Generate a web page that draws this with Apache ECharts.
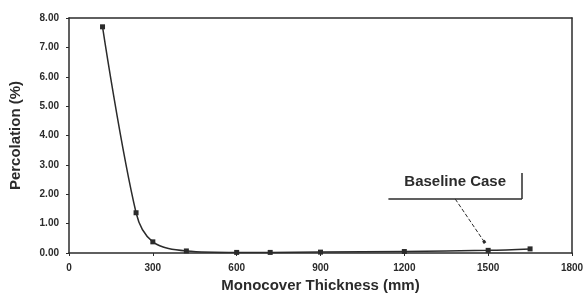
<!DOCTYPE html>
<html>
<head>
<meta charset="utf-8">
<script src="https://cdn.jsdelivr.net/npm/echarts@6/dist/echarts.min.js"></script>
<style>
  html, body { margin: 0; padding: 0; background: #fff; }
  #chart { width: 587px; height: 293px; }
</style>
</head>
<body>
<div id="chart"></div>
<script>
// 数据
var thickness = [120, 240, 300, 420, 600, 720, 900, 1200, 1500, 1650];
var percolation = [7.70, 1.37, 0.38, 0.07, 0.02, 0.02, 0.03, 0.05, 0.09, 0.14];
var xTicks = [0, 300, 600, 900, 1200, 1500, 1800];
var yTicks = [0, 1, 2, 3, 4, 5, 6, 7, 8];
var noteText = 'Baseline Case';

var font = '"Liberation Sans", Arial, sans-serif';
var ink = '#2b2b2b';

var myChart = echarts.init(document.getElementById('chart'));

var points = thickness.map(function (x, i) { return [x, percolation[i]]; });

var option = {
    backgroundColor: '#fff',
    animation: false,
    grid: { left: 69, right: 15, top: 18, bottom: 40, outerBoundsMode: 'none', containLabel: false },
    xAxis: [
        {
            type: 'value',
            min: xTicks[0],
            max: xTicks[xTicks.length - 1],
            interval: 300,
            name: 'Monocover Thickness (mm)',
            nameLocation: 'middle',
            nameGap: 24,
            nameTextStyle: { fontFamily: font, fontWeight: 'bold', fontSize: 15, color: ink },
            axisLine: { show: true, onZero: false, lineStyle: { color: ink, width: 1.5 } },
            axisTick: { show: true, length: 3, lineStyle: { color: ink } },
            axisLabel: {
                fontFamily: font, fontWeight: 'bold', fontSize: 10, color: ink, margin: 10,
                formatter: function (v) { return String(v); }
            },
            splitLine: { show: false }
        },
        {
            type: 'value',
            position: 'top',
            min: xTicks[0],
            max: xTicks[xTicks.length - 1],
            axisLine: { show: true, onZero: false, lineStyle: { color: ink, width: 1.5 } },
            axisTick: { show: false },
            axisLabel: { show: false },
            splitLine: { show: false }
        }
    ],
    yAxis: [
        {
            type: 'value',
            min: yTicks[0],
            max: yTicks[yTicks.length - 1],
            interval: 1,
            name: 'Percolation (%)',
            nameLocation: 'middle',
            nameGap: 46,
            nameTextStyle: { fontFamily: font, fontWeight: 'bold', fontSize: 15, color: ink },
            axisLine: { show: true, onZero: false, lineStyle: { color: ink, width: 1.5 } },
            axisTick: { show: true, length: 3, lineStyle: { color: ink } },
            axisLabel: {
                fontFamily: font, fontWeight: 'bold', fontSize: 10, color: ink, margin: 10,
                formatter: function (v) { return v.toFixed(2); }
            },
            splitLine: { show: false }
        },
        {
            type: 'value',
            position: 'right',
            min: yTicks[0],
            max: yTicks[yTicks.length - 1],
            axisLine: { show: true, onZero: false, lineStyle: { color: ink, width: 1.5 } },
            axisTick: { show: false },
            axisLabel: { show: false },
            splitLine: { show: false }
        }
    ],
    series: [
        {
            type: 'line',
            data: points,
            smooth: 0.35,
            symbol: 'rect',
            symbolSize: 5,
            lineStyle: { color: ink, width: 1.5 },
            itemStyle: { color: ink },
            markLine: {
                silent: true,
                symbol: ['none', 'none'],
                label: { show: false },
                lineStyle: { color: ink, type: 'solid', width: 1.5 },
                data: [
                    [{ coord: [1143, 1.84] }, { coord: [1621, 1.84] }],
                    [{ coord: [1621, 1.84] }, { coord: [1621, 2.72] }],
                    [
                        { coord: [1382, 1.84], lineStyle: { type: 'dashed', width: 1 } },
                        { coord: [1486, 0.38], symbol: 'rect', symbolSize: 3, lineStyle: { type: 'dashed', width: 1 } }
                    ]
                ]
            },
            markPoint: {
                silent: true,
                symbol: 'rect',
                symbolSize: 1,
                itemStyle: { color: 'rgba(0,0,0,0)' },
                label: {
                    show: true,
                    position: 'inside',
                    fontFamily: font,
                    fontWeight: 'bold',
                    fontSize: 15,
                    color: ink,
                    formatter: noteText
                },
                data: [{ coord: [1382, 2.42] }]
            }
        }
    ]
};

myChart.setOption(option);

window.onresize = function () {
    myChart.resize();
};
</script>
</body>
</html>
